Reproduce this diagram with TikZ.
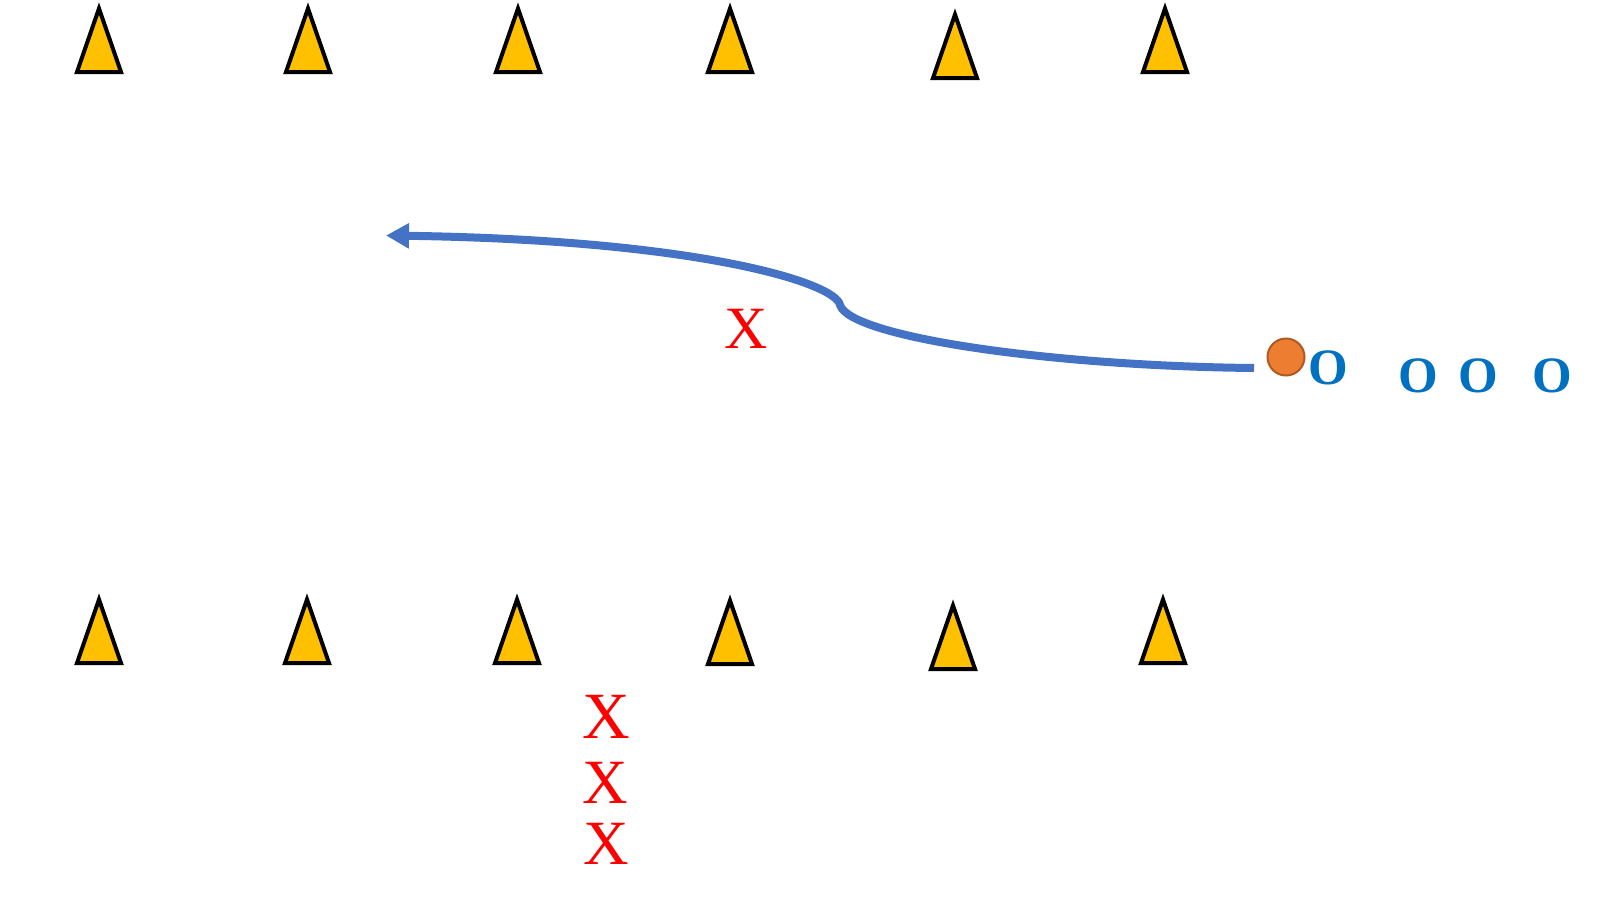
\documentclass[tikz,border=0pt]{standalone}
\usepackage{fontspec}
\setmainfont{Liberation Serif}
\usetikzlibrary{arrows.meta}
\definecolor{coneyellow}{HTML}{FFC000}
\definecolor{runblue}{HTML}{4472C4}
\definecolor{oblue}{HTML}{0070C0}
\definecolor{ballorange}{HTML}{ED7D31}
\definecolor{ballline}{HTML}{AE5A21}
\tikzset{
  cone/.style={fill=coneyellow, draw=black, line width=4pt, line join=miter},
  xmark/.style={text=red, inner sep=0pt, font=\fontsize{#1}{#1}\selectfont},
  omark/.style={text=oblue, inner sep=0pt, font=\fontsize{51}{51}\selectfont\bfseries},
  ball/.style={circle, fill=ballorange, draw=ballline, line width=2pt, minimum size=37pt, inner sep=0pt},
  runpath/.style={draw=runblue, line width=8pt, -{Triangle[length=23pt,width=24pt]}}
}
\begin{document}
\begin{tikzpicture}[x=1pt,y=-1pt]
\useasboundingbox (0,0) rectangle (1600,900);
% top row of cones
\foreach \cx/\ay/\by in {99/8.5/72, 308/8.5/72, 518/8.5/72, 730/8.5/72, 955/14.5/78, 1165/8.5/72}{
  \path[cone] (\cx,\ay) -- (\cx+22,\by) -- (\cx-22,\by) -- cycle;
}
% bottom row of cones
\foreach \cx/\ay/\by in {99/599.5/663, 307/599.5/663, 517/599.5/663, 730/600.5/664, 953/605.5/669, 1163/599.5/663}{
  \path[cone] (\cx,\ay) -- (\cx+22,\by) -- (\cx-22,\by) -- cycle;
}
% ball and players
\node[ball] (ball) at (1286,357) {};
\node[omark] (o1) at (1328,368) {O};
\node[omark] (o2) at (1418,376) {O};
\node[omark] (o3) at (1478,376) {O};
\node[omark] (o4) at (1552,376) {O};
\node[xmark=60] (x1) at (746,329) {X};
\node[xmark=66] (x2) at (606,717) {X};
\node[xmark=63] (x3) at (605,783) {X};
\node[xmark=63] (x4) at (606,844) {X};
% run
\coordinate (start) at (1254,368);
\coordinate (bend) at (840,305);
\coordinate (tip) at (386,235.5);
\path[runpath] (start) .. controls (1050,366) and (850,337) .. (bend)
  .. controls (836,283) and (700,240) .. (tip);
\end{tikzpicture}
\end{document}
